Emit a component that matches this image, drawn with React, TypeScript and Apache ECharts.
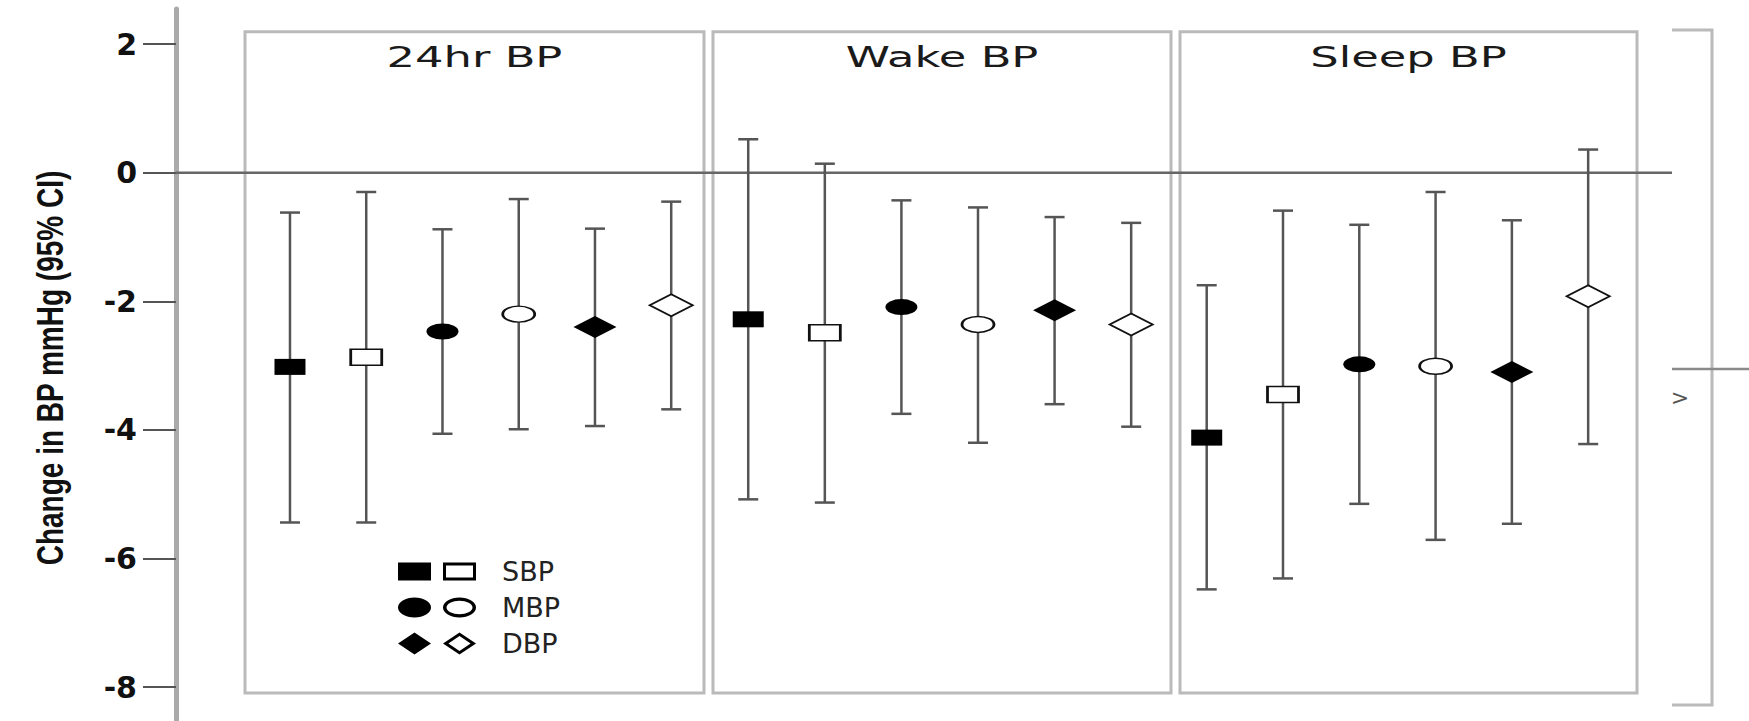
import React, { useEffect, useRef } from 'react';
import * as echarts from 'echarts';

// ---------- data ----------
const panelTitles = ['24hr BP', 'Wake BP', 'Sleep BP'];
const measures = ['SBP', 'MBP', 'DBP'];
const yTicks = [2, 0, -2, -4, -6, -8];
const yAxisTitle = 'Change in BP mmHg (95% CI)';

// order in each panel: SBP filled, SBP open, MBP filled, MBP open, DBP filled, DBP open
const mean24 = [-3.02, -2.87, -2.47, -2.2, -2.4, -2.06];
const lower24 = [-5.44, -5.44, -4.06, -3.99, -3.94, -3.68];
const upper24 = [-0.62, -0.3, -0.88, -0.41, -0.87, -0.45];

const meanWake = [-2.28, -2.49, -2.09, -2.36, -2.14, -2.36];
const lowerWake = [-5.08, -5.13, -3.75, -4.2, -3.6, -3.95];
const upperWake = [0.52, 0.14, -0.43, -0.54, -0.69, -0.78];

const meanSleep = [-4.12, -3.45, -2.98, -3.01, -3.1, -1.92];
const lowerSleep = [-6.48, -6.31, -5.15, -5.71, -5.46, -4.22];
const upperSleep = [-1.75, -0.59, -0.81, -0.3, -0.74, 0.36];

const panelMeans = [mean24, meanWake, meanSleep];
const panelLower = [lower24, lowerWake, lowerSleep];
const panelUpper = [upper24, upperWake, upperSleep];

// ---------- layout ----------
const W = 1749;
const H = 721;
const Y0 = 172.7; // pixel of value 0
const PPU = 64.3; // pixels per unit
const yVal = (px: number) => (Y0 - px) / PPU;
const PANEL_TOP = 31.7;
const PANEL_BOTTOM = 693;
const AXIS_X = 176;
const ZERO_END = 1672;
const panelBoxes = [
  { left: 245, right: 704, xmin: -0.59, xmax: 5.43 },
  { left: 713, right: 1171, xmin: -0.46, xmax: 5.52 },
  { left: 1180, right: 1637, xmin: -0.35, xmax: 5.64 },
];

const ELLIPSE = 'path://M0,10A10,10 0 1,1 20,10A10,10 0 1,1 0,10Z';
const markerSymbol: Record<string, string> = { SBP: 'rect', MBP: ELLIPSE, DBP: 'diamond' };
const markerSize: Record<string, number[]> = { SBP: [31, 16], MBP: [32, 16], DBP: [43, 22] };
const legendIcons: Record<string, string> = {
  SBP: 'path://M0,2H33V20H0Z M45,2H78V20H45Z M48,5V17H75V5Z',
  MBP: 'path://M0,11A16.5,10 0 1,1 33,11A16.5,10 0 1,1 0,11Z M45,11A16.5,10 0 1,1 78,11A16.5,10 0 1,1 45,11Z M48.5,11A13,6.8 0 1,0 74.5,11A13,6.8 0 1,0 48.5,11Z',
  DBP: 'path://M16.5,0L33,11L16.5,22L0,11Z M61.5,0L78,11L61.5,22L45,11Z M61.5,3.6L50.4,11L61.5,18.4L72.6,11Z',
};

const FONT = "'DejaVu Sans', 'Open Sans', sans-serif";

function buildOption() {
  const grids: any[] = [
    { left: AXIS_X, top: 9, width: ZERO_END - AXIS_X, height: H - 9, show: false },
  ];
  const xAxes: any[] = [{ gridIndex: 0, type: 'value', min: 0, max: 1, show: false }];
  const yAxes: any[] = [
    {
      gridIndex: 0,
      type: 'value',
      min: yVal(H),
      max: yVal(9),
      position: 'left',
      axisLine: { show: true, onZero: false, lineStyle: { color: '#aaaaaa', width: 5 } },
      axisTick: { show: true, length: 33, customValues: yTicks, lineStyle: { color: '#555', width: 2 } },
      axisLabel: {
        customValues: yTicks,
        margin: 39,
        fontFamily: FONT,
        fontWeight: 'bold',
        fontSize: 30,
        color: '#111',
      },
      splitLine: { show: false },
    },
  ];
  const series: any[] = [
    {
      type: 'line',
      name: 'zero',
      xAxisIndex: 0,
      yAxisIndex: 0,
      data: [[0, 0], [1, 0]],
      showSymbol: false,
      silent: true,
      lineStyle: { color: '#666666', width: 2.5 },
      z: 3,
    },
  ];

  panelBoxes.forEach((b, p) => {
    grids.push({
      left: b.left,
      top: PANEL_TOP,
      width: b.right - b.left,
      height: PANEL_BOTTOM - PANEL_TOP,
      show: true,
      borderColor: '#bababa',
      borderWidth: 3,
      backgroundColor: 'transparent',
    });
    xAxes.push({ gridIndex: p + 1, type: 'value', min: b.xmin, max: b.xmax, show: false });
    yAxes.push({
      gridIndex: p + 1,
      type: 'value',
      min: yVal(PANEL_BOTTOM),
      max: yVal(PANEL_TOP),
      show: false,
    });
    const lower = panelLower[p];
    const upper = panelUpper[p];
    const means = panelMeans[p];
    series.push({
      type: 'custom',
      name: panelTitles[p] + ' CI',
      xAxisIndex: p + 1,
      yAxisIndex: p + 1,
      silent: true,
      z: 4,
      data: lower.map((lo, i) => [i, lo, upper[i]]),
      renderItem: (params: any, api: any) => {
        const x = api.value(0);
        const pLo = api.coord([x, api.value(1)]);
        const pHi = api.coord([x, api.value(2)]);
        const st = { stroke: '#555555', lineWidth: 2.5 };
        const hw = 10;
        return {
          type: 'group',
          children: [
            { type: 'line', shape: { x1: pHi[0], y1: pHi[1], x2: pLo[0], y2: pLo[1] }, style: st },
            { type: 'line', shape: { x1: pHi[0] - hw, y1: pHi[1], x2: pHi[0] + hw, y2: pHi[1] }, style: st },
            { type: 'line', shape: { x1: pLo[0] - hw, y1: pLo[1], x2: pLo[0] + hw, y2: pLo[1] }, style: st },
          ],
        };
      },
    });
    measures.forEach((m, k) => {
      const iFilled = k * 2;
      const iOpen = k * 2 + 1;
      series.push({
        type: 'scatter',
        name: m,
        xAxisIndex: p + 1,
        yAxisIndex: p + 1,
        symbol: markerSymbol[m],
        symbolSize: markerSize[m],
        z: 5,
        itemStyle: { color: '#000', opacity: 1 },
        data: [
          { value: [iFilled, means[iFilled]] },
          {
            value: [iOpen, means[iOpen]],
            itemStyle: { color: '#fff', borderColor: '#111', borderWidth: 2 },
          },
        ],
      });
    });
  });

  const graphics: any[] = panelTitles.map((t, p) => ({
    type: 'text',
    x: (panelBoxes[p].left + panelBoxes[p].right) / 2,
    y: 57.5,
    scaleX: 1.6,
    style: {
      text: t,
      fontFamily: FONT,
      fontSize: 28,
      fill: '#1a1a1a',
      align: 'center',
      verticalAlign: 'middle',
      textAlign: 'center',
      textVerticalAlign: 'middle',
    },
  }));
  graphics.push(
    {
      type: 'text',
      x: 51,
      y: 368,
      rotation: Math.PI / 2,
      scaleY: 1.3,
      style: {
        text: yAxisTitle,
        fontFamily: "'Liberation Sans', Arial, sans-serif",
        fontWeight: 'bold',
        fontSize: 28,
        fill: '#111',
        align: 'center',
        verticalAlign: 'middle',
        textAlign: 'center',
        textVerticalAlign: 'middle',
      },
    },
    {
      type: 'polyline',
      shape: { points: [[ZERO_END, 30], [1712, 30], [1712, 705], [ZERO_END, 705]] },
      style: { stroke: '#bababa', lineWidth: 3, fill: 'none' },
    },
    {
      type: 'line',
      shape: { x1: ZERO_END, y1: 369, x2: W, y2: 369 },
      style: { stroke: '#8a8a8a', lineWidth: 2.5 },
    },
    {
      type: 'text',
      x: 1680,
      y: 397,
      rotation: 0,
      style: {
        text: '>',
        fontFamily: FONT,
        fontSize: 22,
        fill: '#555',
        align: 'center',
        verticalAlign: 'middle',
        textAlign: 'center',
        textVerticalAlign: 'middle',
      },
    }
  );

  return {
    animation: false,
    backgroundColor: '#ffffff',
    grid: grids,
    xAxis: xAxes,
    yAxis: yAxes,
    series,
    legend: {
      orient: 'vertical',
      left: 393,
      top: 553,
      itemWidth: 78,
      itemHeight: 22,
      itemGap: 9,
      selectedMode: false,
      data: measures.map((m) => ({ name: m, icon: legendIcons[m] })),
      textStyle: { fontFamily: FONT, fontSize: 27, color: '#222', padding: [0, 0, 0, 21] },
    },
    graphic: graphics,
  };
}

export default function App() {
  const ref = useRef<HTMLDivElement>(null);
  useEffect(() => {
    if (!ref.current) return;
    const chart = echarts.init(ref.current, undefined, { renderer: 'svg' });
    chart.setOption(buildOption() as any);
    return () => chart.dispose();
  }, []);
  return (
    <div
      ref={ref}
      style={{ position: 'absolute', left: 0, top: 0, width: W, height: H, background: '#fff' }}
    />
  );
}
